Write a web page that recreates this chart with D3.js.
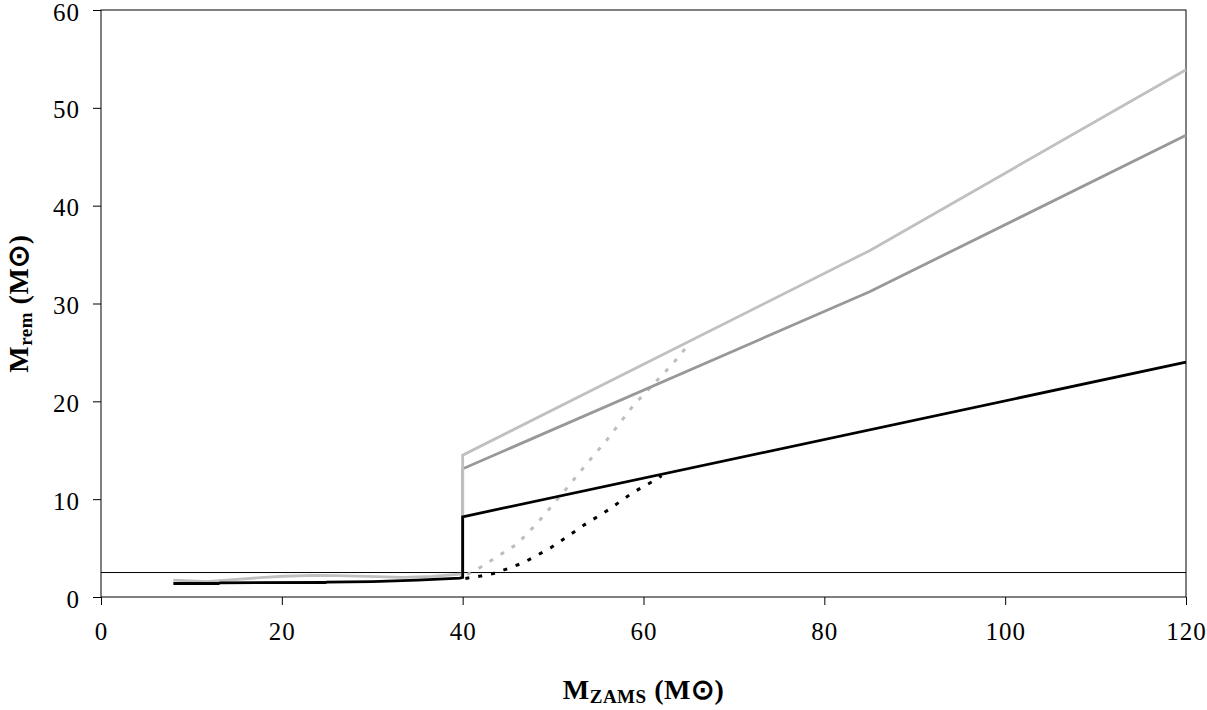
<!DOCTYPE html>
<html>
<head>
<meta charset="utf-8">
<script src="https://cdn.jsdelivr.net/npm/d3@7"></script>
<style>
	body { margin: 0; background: #fff; }
	svg { display: block; }
	text { font-family: 'Liberation Serif', 'Times New Roman', serif; fill: #000; }
	.tick text { font-size: 25px; letter-spacing: 1px; }
	.lab { font-size: 28px; font-weight: bold; letter-spacing: 0.5px; }
</style>
</head>
<body>
<svg id="chart" width="1207" height="710"></svg>
<script>
// tick values
const xTicks = [0, 20, 40, 60, 80, 100, 120]
const yTicks = [0, 10, 20, 30, 40, 50, 60]
const limitMass = 2.5

// light grey solid
const lightX = [8, 11.7, 17.6, 20.2, 23.5, 26.1, 30.5, 33.4, 36.7, 40, 40, 85, 120]
const lightY = [1.72, 1.58, 1.97, 2.12, 2.22, 2.18, 2.08, 2.0, 2.1, 2.35, 14.5, 35.4, 53.9]
// dark grey solid
const darkX = [40, 40, 85, 120]
const darkY = [2.3, 13.1, 31.2, 47.2]
// black solid
const blackX = [8, 13, 13.2, 24.8, 25, 30, 35, 39.7, 40, 40, 120]
const blackY = [1.38, 1.38, 1.45, 1.48, 1.53, 1.58, 1.72, 1.92, 2.0, 8.2, 24.0]
// light grey dotted
const lightDotX = [40.5, 41.9, 46.0, 48.2, 51.5, 53.7, 55.9, 58.9, 63.3, 64.8]
const lightDotY = [2.3, 3.0, 5.4, 7.5, 11.1, 13.6, 16.0, 19.6, 23.9, 25.6]
// black dotted
const blackDotX = [40.3, 41.7, 43.4, 45.0, 46.7, 49.7, 50.9, 53.5, 56.1, 58.7, 60.0, 61.4, 62.0]
const blackDotY = [1.9, 2.1, 2.4, 2.9, 3.5, 5.0, 5.75, 7.4, 8.9, 10.6, 11.3, 12.0, 12.4]

const margin = {top: 10, right: 21, bottom: 113, left: 101}
const width = 1207 - margin.left - margin.right,
	height = 710 - margin.top - margin.bottom

const svg = d3.select('#chart')
const g = svg.append('g').attr('transform', `translate(${margin.left},${margin.top})`)

const x = d3.scaleLinear().domain([0, 120]).range([0, width])
const y = d3.scaleLinear().domain([0, 60]).range([height, 0])

const zip = (xs, ys) => xs.map((v, i) => [v, ys[i]])
const line = d3.line().x(d => x(d[0])).y(d => y(d[1]))

// axes
const xAxis = g.append('g')
	.attr('transform', `translate(0,${height})`)
	.call(d3.axisBottom(x).tickValues(xTicks).tickSize(8).tickPadding(17))
xAxis.select('.domain').remove()
xAxis.selectAll('line').attr('stroke', '#000')

const yAxis = g.append('g')
	.call(d3.axisLeft(y).tickValues(yTicks).tickSize(8).tickPadding(13))
yAxis.select('.domain').remove()
yAxis.selectAll('line').attr('stroke', '#000')
yAxis.selectAll('text').attr('dy', '0.4em')

// frame
g.append('rect')
	.attr('x', 0).attr('y', 0)
	.attr('width', width).attr('height', height)
	.attr('fill', 'none').attr('stroke', '#000').attr('stroke-width', 1)

// 2.5 Msun line
g.append('line')
	.attr('x1', 0).attr('x2', width)
	.attr('y1', y(limitMass)).attr('y2', y(limitMass))
	.attr('stroke', '#000').attr('stroke-width', 1)

const series = [
	{xs: lightDotX, ys: lightDotY, color: '#bdbdbd', dash: '4,9', w: 3},
	{xs: blackDotX, ys: blackDotY, color: '#000', dash: '4,9', w: 3},
	{xs: darkX, ys: darkY, color: '#989898', dash: null, w: 2.8},
	{xs: lightX, ys: lightY, color: '#c0c0c0', dash: null, w: 2.8},
	{xs: blackX, ys: blackY, color: '#000', dash: null, w: 2.8}
]

g.append('g')
	.selectAll('path')
	.data(series)
	.enter()
	.append('path')
	.attr('d', d => line(zip(d.xs, d.ys)))
	.attr('fill', 'none')
	.attr('stroke', d => d.color)
	.attr('stroke-width', d => d.w)
	.attr('stroke-dasharray', d => d.dash)
	.attr('stroke-linejoin', 'miter')

// axis labels
const xl = svg.append('text')
	.attr('class', 'lab')
	.attr('x', margin.left + width / 2)
	.attr('y', 699)
	.attr('text-anchor', 'middle')
xl.append('tspan').text('M')
xl.append('tspan').attr('font-size', '19px').attr('dy', '4').text('ZAMS')
xl.append('tspan').attr('dy', '-4').text(' (M\u2299)')

const yl = svg.append('text')
	.attr('class', 'lab')
	.attr('transform', `translate(28,${margin.top + height / 2}) rotate(-90)`)
	.attr('text-anchor', 'middle')
yl.append('tspan').text('M')
yl.append('tspan').attr('font-size', '19px').attr('dy', '4').text('rem')
yl.append('tspan').attr('dy', '-4').text(' (M\u2299)')
</script>
</body>
</html>
